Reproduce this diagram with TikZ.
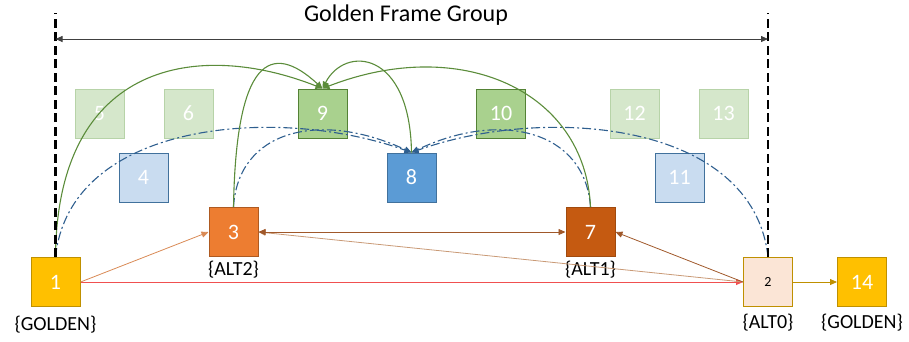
\documentclass[tikz,border=0pt]{standalone}
\usepackage{fontspec}
\setmainfont{Carlito}
\usetikzlibrary{arrows.meta}

\definecolor{goldfill}{HTML}{FFC000}
\definecolor{goldline}{HTML}{BF9000}
\definecolor{orangefill}{HTML}{ED7D31}
\definecolor{orangeline}{HTML}{AE5A21}
\definecolor{rustfill}{HTML}{C55A11}
\definecolor{rustline}{HTML}{A04A0E}
\definecolor{peachfill}{HTML}{FBE5D6}
\definecolor{greenfill}{HTML}{A9D18E}
\definecolor{greenline}{HTML}{548235}
\definecolor{palegreenfill}{HTML}{D5E7CB}
\definecolor{palegreenline}{HTML}{B7D3A8}
\definecolor{bluefill}{HTML}{5B9BD5}
\definecolor{blueline}{HTML}{41719C}
\definecolor{paleblue}{HTML}{C9DCF0}
\definecolor{refgreen}{HTML}{5B8C3A}
\definecolor{refblue}{HTML}{2F5F8F}
\definecolor{dimgrey}{HTML}{404040}
\definecolor{lightorange}{HTML}{D98A55}
\definecolor{brownarrow}{HTML}{A0582A}
\definecolor{tanarrow}{HTML}{C99A76}
\definecolor{redarrow}{HTML}{F05050}

\begin{document}
\begin{tikzpicture}[x=1pt,y=-1pt,
  frame/.style={draw, minimum size=49pt, inner sep=0pt, line width=1pt,
    text=white, font=\fontsize{22}{22}\selectfont},
  lbl/.style={inner sep=0pt, font=\fontsize{20}{20}\selectfont, text=black},
  tip/.style={-{Triangle[length=7pt,width=6pt]}},
  greenref/.style={tip, draw=refgreen, line width=1.1pt},
  blueref/.style={tip, draw=refblue, line width=1.1pt,
    dash pattern=on 9pt off 3pt on 2pt off 3pt},
  straight/.style={tip, line width=0.8pt},
  groupedge/.style={draw=black, line width=2.2pt, dash pattern=on 9pt off 4.5pt}
]
\useasboundingbox (0,0) rectangle (909,341);

% frames of the group
\node[frame, fill=goldfill, draw=goldline] (f1) at (55.5,282) {1};
\node[frame, fill=peachfill, draw=goldline, text=black,
  font=\fontsize{14}{14}\selectfont] (f2) at (768,282) {2};
\node[frame, fill=orangefill, draw=orangeline] (f3) at (233.5,232) {3};
\node[frame, fill=paleblue, draw=blueline] (f4) at (143.5,177.5) {4};
\node[frame, fill=palegreenfill, draw=palegreenline] (f5) at (99.5,113.5) {5};
\node[frame, fill=palegreenfill, draw=palegreenline] (f6) at (188.5,113.5) {6};
\node[frame, fill=rustfill, draw=rustline] (f7) at (590.5,232) {7};
\node[frame, fill=bluefill, draw=blueline] (f8) at (411.5,177.5) {8};
\node[frame, fill=greenfill, draw=greenline] (f9) at (322.5,113.5) {9};
\node[frame, fill=greenfill, draw=greenline] (f10) at (501,113.5) {10};
\node[frame, fill=paleblue, draw=blueline] (f11) at (679.5,177.5) {11};
\node[frame, fill=palegreenfill, draw=palegreenline] (f12) at (634.5,113.5) {12};
\node[frame, fill=palegreenfill, draw=palegreenline] (f13) at (723.5,113.5) {13};
\node[frame, fill=goldfill, draw=goldline] (f14) at (862,282) {14};

% frame type labels
\node[lbl] (l1) at (55.5,325) {\{GOLDEN\}};
\node[lbl] (l3) at (233.5,270) {\{ALT2\}};
\node[lbl] (l7) at (590.5,270) {\{ALT1\}};
\node[lbl] (l2) at (768,323) {\{ALT0\}};
\node[lbl] (l14) at (862,323) {\{GOLDEN\}};

% group extent
\node[inner sep=0pt, font=\fontsize{24}{24}\selectfont] (title) at (406,15) {Golden Frame Group};
\coordinate (gl) at (55.5,13);
\coordinate (gr) at (768,13);
\coordinate (dl) at (55.5,39);
\coordinate (dr) at (768,39);

% references of frame 8 (dash-dot)
\draw[blueref] (f1.north) .. controls (70,120) and (280,105) .. (f8.north);
\draw[blueref] (f3.north) .. controls (238,130) and (320,110) .. (f8.north);
\draw[blueref] (f7.north) .. controls (585,130) and (500,110) .. (f8.north);
\draw[blueref] (f2.north) .. controls (753,120) and (543,105) .. (f8.north);

% references of frame 9
\draw[greenref] (f1.north) .. controls (57,60) and (200,40) .. (f9.north);
\draw[greenref] (f3.north) .. controls (236,60) and (270,40) .. (f9.north);
\draw[greenref] (f7.north) .. controls (585,90) and (460,35) .. (f9.north);
\draw[greenref] (f8.north) .. controls (410,50) and (345,45) .. (f9.north);

% group boundaries on top of the curves
\draw[groupedge] (f1.north) -- (gl);
\draw[groupedge] (f2.north) -- (gr);
\draw[dimgrey, line width=0.8pt, {Triangle[length=7pt,width=6pt]}-{Triangle[length=7pt,width=6pt]}] (dl) -- (dr);

% direct references
\draw[straight, lightorange] (f1.east) -- (f3.west);
\draw[straight, redarrow] (f1.east) -- (f2.west);
\draw[straight, tanarrow] (f2.west) -- (f3.east);
\draw[straight, brownarrow] (f2.west) -- (f7.east);
\draw[straight, brownarrow, {Triangle[length=7pt,width=6pt]}-{Triangle[length=7pt,width=6pt]}] (f3.east) -- (f7.west);
\draw[straight, goldline] (f2.east) -- (f14.west);
\end{tikzpicture}
\end{document}
